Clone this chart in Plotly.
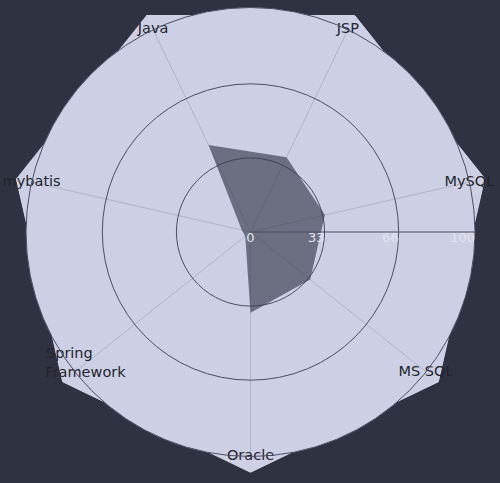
import plotly.graph_objects as go

categories = ["Java", "JSP", "MySQL", "MS SQL", "Oracle", "Spring Framework", "mybatis"]
label_text = ["Java", "JSP", "MySQL", "MS SQL", "Oracle",
              "Spring" + "\u00a0" * 7 + "<br>Framework", "mybatis"]
skill_values = [43, 37, 34, 34, 36, 3, 4]
outer_values = [107, 107, 107, 107, 107, 107, 107]
label_r = [100, 100, 100, 100, 100, 94, 100]
radial_ticks = [0, 33, 66, 100]
radial_tick_text = ["0", "33", "66", "100"]
radial_tick_angle = [0, 0, 0, 0]
radial_tick_pos = ["bottom center", "bottom left", "bottom left", "bottom left"]

BG = "#2f3240"
LIGHT = "#cdd0e4"
DARK_LINE = "#4b4f63"
SPOKE = "#b3b4c0"

W, H, SHIFT = 500, 495, 12
rotation = 90 + 360 / 7 / 2  # Java sits just left of the top

# main polar: centre (250.5, 232) in window px, radius 224.5 for r=100
cx, cy_top, rad = 250.5, 232 + SHIFT, 224.5
cy = H - cy_top
dom_x = [(cx - rad) / W, (cx + rad) / W]
dom_y = [(cy - rad) / H, (cy + rad) / H]
bg_range = 107.5
rad2 = rad * bg_range / 100
dom_x2 = [(cx - rad2) / W, (cx + rad2) / W]
dom_y2 = [(cy - rad2) / H, (cy + rad2) / H]

fig = go.Figure()

# light outer polygon behind the chart
fig.add_trace(go.Scatterpolar(
    r=outer_values, theta=categories, mode="lines", fill="toself",
    fillcolor=LIGHT, line=dict(color="#d6d8ea", width=1),
    hoverinfo="skip", showlegend=False, subplot="polar",
))

# data
fig.add_trace(go.Scatterpolar(
    r=skill_values, theta=categories, mode="lines", fill="toself",
    fillcolor="rgba(60,62,80,0.67)", line=dict(width=0, color="rgba(0,0,0,0)"),
    showlegend=False, subplot="polar2",
))

# category labels at spoke ends
fig.add_trace(go.Scatterpolar(
    r=label_r, theta=categories, mode="text", text=label_text,
    textposition="middle center",
    textfont=dict(family="DejaVu Sans", size=14.5, color="#23242d"),
    cliponaxis=False, hoverinfo="skip", showlegend=False, subplot="polar2",
))

# radial tick labels, placed along the radial axis (angle 0)
fig.add_trace(go.Scatterpolar(
    r=radial_ticks, theta=radial_tick_angle, mode="text", text=radial_tick_text,
    textposition=radial_tick_pos,
    textfont=dict(family="DejaVu Sans", size=13, color="#e2e3ee"),
    cliponaxis=False, hoverinfo="skip", showlegend=False, subplot="polar3",
))

fig.update_layout(
    width=W, height=H,
    paper_bgcolor=BG, plot_bgcolor=BG,
    margin=dict(l=0, r=0, t=0, b=0),
    showlegend=False,
    polar=dict(
        domain=dict(x=dom_x2, y=dom_y2),
        bgcolor="rgba(0,0,0,0)",
        radialaxis=dict(range=[0, bg_range], visible=False, showgrid=False),
        angularaxis=dict(
            type="category", categoryarray=categories, direction="clockwise",
            rotation=rotation, showgrid=False, showticklabels=False, ticks="",
            showline=False,
        ),
    ),
    polar2=dict(
        domain=dict(x=dom_x, y=dom_y),
        bgcolor=LIGHT,
        radialaxis=dict(
            range=[0, 100], angle=0, tickvals=radial_ticks,
            showticklabels=False, ticks="",
            showline=True, linecolor=DARK_LINE, linewidth=1,
            gridcolor=DARK_LINE, gridwidth=1,
        ),
        angularaxis=dict(
            type="category", categoryarray=categories, direction="clockwise",
            rotation=rotation, showgrid=True, gridcolor=SPOKE, gridwidth=1,
            showticklabels=False, ticks="",
            showline=True, linecolor=DARK_LINE, linewidth=1,
        ),
    ),
    polar3=dict(
        domain=dict(x=dom_x, y=dom_y),
        bgcolor="rgba(0,0,0,0)",
        radialaxis=dict(range=[0, 100], visible=False, showgrid=False),
        angularaxis=dict(visible=False, showgrid=False, rotation=0,
                         direction="counterclockwise"),
    ),
)

post = (
    "document.body.style.margin='0';"
    "document.body.style.overflow='hidden';"
    "document.body.style.background='%s';"
    "var g=document.getElementsByClassName('plotly-graph-div')[0];"
    "g.style.marginTop='-%dpx';" % (BG, SHIFT)
)
fig.write_html("out.html", post_script=post, config={"displayModeBar": False})
